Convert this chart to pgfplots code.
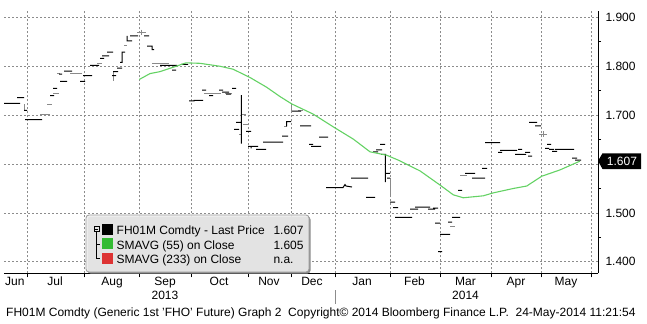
\documentclass[border=0pt]{standalone}
\usepackage{fontspec}
\setmainfont{Liberation Sans}
\usepackage{pgfplots}
\pgfplotsset{compat=1.18}
\definecolor{gridc}{HTML}{8C8C8C}
\definecolor{smagreen}{RGB}{100,210,100}
\definecolor{legGreen}{HTML}{33BB33}
\definecolor{legRed}{HTML}{DD3333}
\definecolor{pgray}{HTML}{8A8A8A}
\newcommand{\bfont}{\fontsize{12bp}{14bp}\selectfont}
\begin{document}
\begin{tikzpicture}[font=\bfont]
\useasboundingbox (0,0) rectangle (647bp,-324bp);
\begin{axis}[
  at={(4bp,-273.3bp)}, anchor=south west,
  scale only axis, width=594bp, height=262.3bp,
  xmin=4, xmax=598, ymin=1.37648, ymax=1.913,
  axis x line*=bottom, axis y line*=right,
  axis line style={-, black, line width=0.8bp},
  tick align=outside,
  major tick length=4bp, minor tick length=3bp,
  xtick={27.3,84.7,139.3,191.7,248.3,291.7,335.7,390.3,440.7,491.7,541.7,591.7},
  xticklabels={},
  extra x ticks={14.8,55,112,165,219,269,312,362,414.5,465.5,516,566},
  extra x tick labels={Jun,Jul,Aug,Sep\\2013,Oct,Nov,Dec,Jan,Feb,Mar\\2014,Apr,May},
  extra x tick style={major tick length=0pt, grid=none, tick label style={align=center, yshift=0bp}},
  ytick={1.4,1.5,1.6,1.7,1.8,1.9},
  yticklabels={1.400,1.500,,1.700,1.800,1.900},
  minor y tick num=1,
  major y tick style={draw=none},
  minor y tick style={black, line width=0.8bp},
  major x tick style={black, line width=0.8bp},
  tick label style={font=\bfont},
  grid=major,
  major grid style={gridc, dash pattern=on 2bp off 2bp, line width=0.7bp},
  clip=false,
  unbounded coords=jump,
]
% gray marks
\addplot[pgray, line width=1bp] coordinates {
(24,1.722)(24,1.710)(24,nan)
(40,1.702)(50,1.702)(50,nan)
(47,1.722)(52,1.722)(52,nan)
(53,1.745)(59,1.745)(59,nan)
(57,1.786)(60,1.786)(60,nan)
(70,1.785)(82,1.785)(82,nan)
(97,1.806)(102,1.806)(102,nan)
(113,1.790)(113,1.770)(113,nan)
(124,1.843)(127,1.843)(127,nan)
(137,1.869)(146,1.869)(146,nan)
(141.5,1.875)(141.5,1.863)(141.5,nan)
(152,1.806)(169,1.806)(169,nan)
(204,1.745)(221,1.745)(221,nan)
(225,1.745)(232,1.745)(232,nan)
(241,1.702)(246,1.702)(246,nan)
(243,1.681)(248,1.681)(248,nan)
(239,1.661)(241,1.661)(241,nan)
(284,1.677)(287,1.677)(287,nan)
(291.3,1.723)(291.3,1.704)(291.3,nan)
(298,1.710)(303,1.710)(303,nan)
(390.3,1.571)(390.3,1.532)(390.3,nan)
(450,1.473)(455,1.473)(455,nan)
(460,1.577)(467,1.577)(467,nan)
(539,1.661)(547,1.661)(547,nan)
(543,1.667)(543,1.655)(543,nan)
};
% last price
\addplot[black, line width=1bp] coordinates {
(4,1.724)(20,1.724)(20,nan)
(17,1.736)(24,1.736)(24,nan)
(24,1.710)(27,1.710)(27,nan)
(25,1.691)(42,1.691)(42,nan)
(50,1.740)(54,1.740)(54,nan)
(53,1.755)(57,1.755)(57,nan)
(60,1.769)(67,1.769)(67,nan)
(59,1.784)(62,1.784)(62,nan)
(64,1.790)(72,1.790)(72,nan)
(80,1.769)(85,1.769)(85,nan)
(83,1.781)(92,1.781)(92,nan)
(90,1.802)(99,1.802)(99,nan)
(100,1.816)(104,1.816)(104,nan)
(102,1.821)(109,1.821)(109,nan)
(107,1.829)(113,1.829)(113,nan)
(112,1.781)(116,1.781)(116,nan)
(113,1.789)(118,1.789)(118,nan)
(117,1.796)(122,1.796)(122,nan)
(120,1.808)(122,1.808)(122,1.829)(125,1.829)(125,nan)
(127,1.862)(127,1.852)(132,1.852)(132,nan)
(130,1.862)(138,1.862)(138,nan)
(144,1.862)(149,1.862)(149,nan)
(147,1.841)(152,1.841)(152,1.834)(154,1.834)(154,nan)
(160,1.802)(177,1.802)(177,nan)
(172,1.792)(176,1.792)(176,nan)
(181,1.804)(188,1.804)(188,nan)
(189,1.729)(194,1.729)(194,1.730)(203,1.730)(203,nan)
(202,1.751)(206,1.751)(206,nan)
(209,1.740)(213,1.740)(213,nan)
(219,1.751)(223,1.751)(223,nan)
(222,1.747)(229,1.747)(229,nan)
(226,1.743)(231,1.743)(231,nan)
(232,1.755)(236,1.755)(236,nan)
(241.3,1.741)(241.3,1.642)(241.3,nan)
(236,1.685)(241,1.685)(241,nan)
(234,1.671)(239,1.671)(239,nan)
(246,1.667)(251,1.667)(251,nan)
(248,1.636)(258,1.636)(258,nan)
(251,1.636)(251,1.632)(251,nan)
(256,1.630)(266,1.630)(266,nan)
(263,1.645)(283,1.645)(283,nan)
(282,1.657)(288,1.657)(288,nan)
(286,1.687)(291,1.687)(291,nan)
(286.7,1.687)(286.7,1.677)(286.7,nan)
(292,1.708)(301,1.708)(301,nan)
(300,1.678)(311,1.678)(311,nan)
(319,1.655)(328,1.655)(328,nan)
(309,1.640)(313,1.640)(313,nan)
(311,1.636)(321,1.636)(321,nan)
(326,1.552)(343,1.552)(345,1.558)(346,1.555)(352,1.553)(352,nan)
(351,1.571)(368,1.571)(368,nan)
(366,1.532)(375,1.532)(375,nan)
(373,1.625)(378,1.625)(378,nan)
(376,1.629)(382,1.629)(382,nan)
(380,1.640)(385,1.640)(385,nan)
(381,1.620)(386,1.620)(386,nan)
(385.3,1.620)(385.3,1.563)(385.3,nan)
(385,1.581)(390,1.581)(390,nan)
(387,1.571)(390,1.571)(390,nan)
(390,1.522)(395,1.522)(395,nan)
(393,1.511)(398,1.511)(398,nan)
(395,1.491)(412,1.491)(412,nan)
(410,1.508)(418,1.508)(418,nan)
(415,1.512)(430,1.512)(430,nan)
(428,1.508)(435,1.508)(435,nan)
(433,1.510)(438,1.510)(438,nan)
(435,1.479)(440,1.479)(440,nan)
(440,1.456)(450,1.456)(450,nan)
(438,1.421)(442,1.421)(442,nan)
(448,1.481)(452,1.481)(452,nan)
(452,1.491)(460,1.491)(460,nan)
(458,1.546)(462,1.546)(462,nan)
(465,1.581)(475,1.581)(475,nan)
(472,1.571)(485,1.571)(485,nan)
(482,1.591)(487,1.591)(487,nan)
(485,1.644)(500,1.644)(500,nan)
(498,1.624)(502,1.624)(502,nan)
(500,1.628)(517,1.628)(517,nan)
(518,1.630)(522,1.630)(522,nan)
(515,1.620)(526,1.620)(526,nan)
(525,1.624)(530,1.624)(530,nan)
(528,1.616)(532,1.616)(532,nan)
(529,1.685)(537,1.685)(537,nan)
(535,1.678)(541,1.678)(541,nan)
(547,1.640)(551,1.640)(551,nan)
(545,1.632)(549,1.632)(549,nan)
(549,1.630)(554,1.630)(554,nan)
(552,1.626)(557,1.626)(557,nan)
(555,1.630)(574,1.630)(574,nan)
(572,1.612)(577,1.612)(577,nan)
(575,1.608)(581,1.608)(581,nan)
};
% SMAVG 55
\addplot[smagreen, line width=1.1bp] coordinates {
(139.3,1.773)(150,1.785)(160,1.789)(173.3,1.798)(186,1.807)(200,1.806)
(220,1.800)(233,1.794)(250,1.777)(266.7,1.757)(280,1.738)(291.7,1.723)
(313.3,1.702)(333.3,1.676)(353.3,1.651)(370,1.625)(386.7,1.618)(398.3,1.608)
(420,1.586)(440,1.557)(453.3,1.537)(463.3,1.531)(483.3,1.535)(493.3,1.541)
(513.3,1.550)(526.7,1.555)(541.7,1.575)(560,1.588)(580,1.606)
};
\pgfplotsinvokeforeach{1.4,1.5,1.6,1.7,1.8,1.9}{
  \fill[black] (axis cs:598,#1) ++(0,2.6bp) -- ++(6bp,-2.6bp) -- ++(-6bp,-2.6bp) -- cycle;
}
\end{axis}
\begin{scope}[x=1bp,y=-1bp]
  % last price tag
  \fill[black] (598,161) -- (602.5,153.3) -- (641,153.3) -- (641,169) -- (602.5,169) -- cycle;
  \node[white, anchor=base] at (622,165.3) {1.607};
  % year separator
  \draw[gridc, line width=0.8bp] (335.7,290) -- (335.7,304);
  % legend
  \fill[black!45, rounded corners=3bp] (87.5,216.5) rectangle (310.5,273.5);
  \fill[gray!12, fill opacity=0.88, rounded corners=3bp] (86,215) rectangle (309,272);
  \draw[black!40, line width=0.8bp, rounded corners=3bp] (86,215) rectangle (309,272);
  \draw[black, line width=0.7bp] (94,226.7) rectangle (99,231.7);
  \draw[black, line width=0.7bp] (95.2,229.2) -- (97.8,229.2);
  \draw[black, line width=0.7bp] (96.5,231.7) -- (96.5,258.7) -- (99.5,258.7);
  \draw[black, line width=0.7bp] (96.5,244) -- (99.5,244);
  \fill[black] (102.3,224) rectangle (112.7,234.7);
  \fill[legGreen] (102.3,238.3) rectangle (112.7,249);
  \fill[legRed] (102.3,253.3) rectangle (112.7,264);
  \node[anchor=base west, inner sep=0] at (116.5,234.7) {FH01M Comdty - Last Price};
  \node[anchor=base west, inner sep=0] at (116.5,249.3) {SMAVG (55) on Close};
  \node[anchor=base west, inner sep=0] at (116.5,263.7) {SMAVG (233) on Close};
  \node[anchor=base west, inner sep=0] at (273.3,234.7) {1.607};
  \node[anchor=base west, inner sep=0] at (273.3,249.3) {1.605};
  \node[anchor=base west, inner sep=0] at (273.3,263.7) {n.a.};
  % footer
  \node[anchor=base west, inner sep=0] at (6,316.7) {FH01M Comdty (Generic 1st 'FHO' Future) Graph 2\ \ Copyright\textcopyright{} 2014 Bloomberg Finance L.P.\ \ 24-May-2014 11:21:54};
\end{scope}
\end{tikzpicture}
\end{document}
